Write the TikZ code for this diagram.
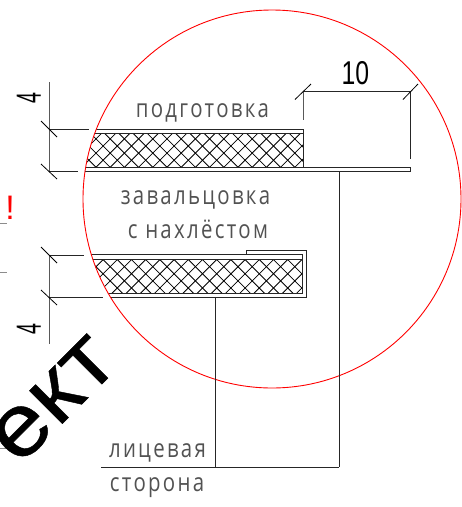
\documentclass[tikz,border=0pt]{standalone}
\usepackage{fontspec}
\setmainfont{Liberation Sans}
\newfontfamily\lblfont[FakeStretch=0.8,LetterSpace=9]{Open Sans}
\newfontfamily\dimfont[FakeStretch=0.75]{Liberation Sans}
\newfontfamily\fourfont[FakeStretch=0.56]{Liberation Sans}
\newfontfamily\wmfont[FakeStretch=1.12,FakeBold=0.5]{Liberation Sans}
\tikzset{
  ink/.style={line width=1pt,black!85},
  thin ink/.style={line width=0.9pt,black!85},
  extline/.style={line width=1pt,black!65},
  tick/.style={line width=0.8pt,black},
  hatchline/.style={line width=0.8pt,black},
  redcircle/.style={line width=0.9pt,red},
  lbl/.style={inner sep=0,anchor=base,text=black!68,font=\lblfont\fontsize{25.5}{25.5}\selectfont},
  dimtxt/.style={inner sep=0,anchor=base,text=black,font=\dimfont\fontsize{33}{33}\selectfont},
  fourtxt/.style={inner sep=0,anchor=base,rotate=90,text=black,font=\fourfont\fontsize{35}{35}\selectfont}
}
\begin{document}
\begin{tikzpicture}[x=1pt,y=-1pt]
\useasboundingbox (0,0) rectangle (462,507);
\coordinate (cc) at (272,199);
% upper hatched band
\begin{scope}
  \clip (cc) circle [radius=189pt];
  \begin{scope}
    \clip (80,133) rectangle (303,167);
    \foreach \k in {-20,...,20} {
      \draw[hatchline] ({113.3+14.2*\k-20},-20) -- ({113.3+14.2*\k+320},320);
      \draw[hatchline] ({405.3+14.2*\k+20},-20) -- ({405.3+14.2*\k-320},320);
    }
  \end{scope}
  \draw[ink] (80,129) -- (303,129);
  \draw[ink] (80,133) -- (303,133);
  \draw[ink] (303,129) -- (303,167);
  \draw[ink] (80,167) -- (410,167) -- (410,171) -- (80,171);
  % lower hatched band
  \begin{scope}
    \clip (80,259) rectangle (302,293);
    \foreach \k in {-20,...,20} {
      \draw[hatchline] ({113.3+14.2*\k-20},-20) -- ({113.3+14.2*\k+320},320);
      \draw[hatchline] ({405.3+14.2*\k+20},-20) -- ({405.3+14.2*\k-320},320);
    }
  \end{scope}
  \draw[ink] (80,254.5) -- (302,254.5) -- (302,293) -- (80,293);
  \draw[ink] (80,259) -- (302,259);
  \draw[ink] (246,254.5) -- (246,250) -- (306.5,250) -- (306.5,297.5) -- (80,297.5);
\end{scope}
% red circle
\draw[redcircle] (cc) circle [radius=189pt];
% vertical dimension, top
\draw[extline] (49,82) -- (49,172);
\draw[ink] (49,129) -- (89,129);
\draw[ink] (49,171) -- (78,171);
\draw[tick] (41,121) -- (57,137);
\draw[tick] (41,164) -- (57,179);
% vertical dimension, bottom
\draw[extline] (49,255) -- (49,344);
\draw[ink] (49,255) -- (84,255);
\draw[ink] (49,297.5) -- (103,297.5);
\draw[tick] (41,247) -- (57,263);
\draw[tick] (41,290) -- (57,305);
% horizontal dimension
\draw[ink] (303,91) -- (410,91);
\draw[extline] (303,91) -- (303,120);
\draw[ink] (410,91) -- (410,159);
\draw[tick] (295,99.5) -- (311,84);
\draw[tick] (403,99.5) -- (418,84);
% leaders
\draw[thin ink] (215,297.5) -- (215,467);
\draw[thin ink] (339,171) -- (339,467);
\draw[thin ink] (101,467) -- (339,467);
% stubs at the left edge
\draw[line width=0.8pt,black!45] (0,223) -- (7,223);
\draw[line width=0.8pt,black!45] (0,272) -- (7,272);
\draw[line width=0.8pt,black!45] (0,448) -- (7,448);
% texts
\node[lbl] (t1) at (202.5,117) {подготовка};
\node[lbl] (t2) at (195.5,204) {завальцовка};
\node[lbl] (t3) at (198,238) {с нахлёстом};
\node[lbl] (t4) at (157.5,457) {лицевая};
\node[lbl] (t5) at (157,491) {сторона};
\node[dimtxt] (d10) at (355.5,84) {10};
\node[fourtxt] (d4a) at (41,98) {4};
\node[fourtxt] (d4b) at (41,329) {4};
\node[inner sep=0,anchor=base,text=red,font=\fontsize{34}{34}\selectfont] (ex) at (10,219) {!};
\node[inner sep=0,anchor=base east,rotate=45,text=black,font=\wmfont\fontsize{88}{88}\selectfont] (wm) at (121,365) {ект};
\end{tikzpicture}
\end{document}
